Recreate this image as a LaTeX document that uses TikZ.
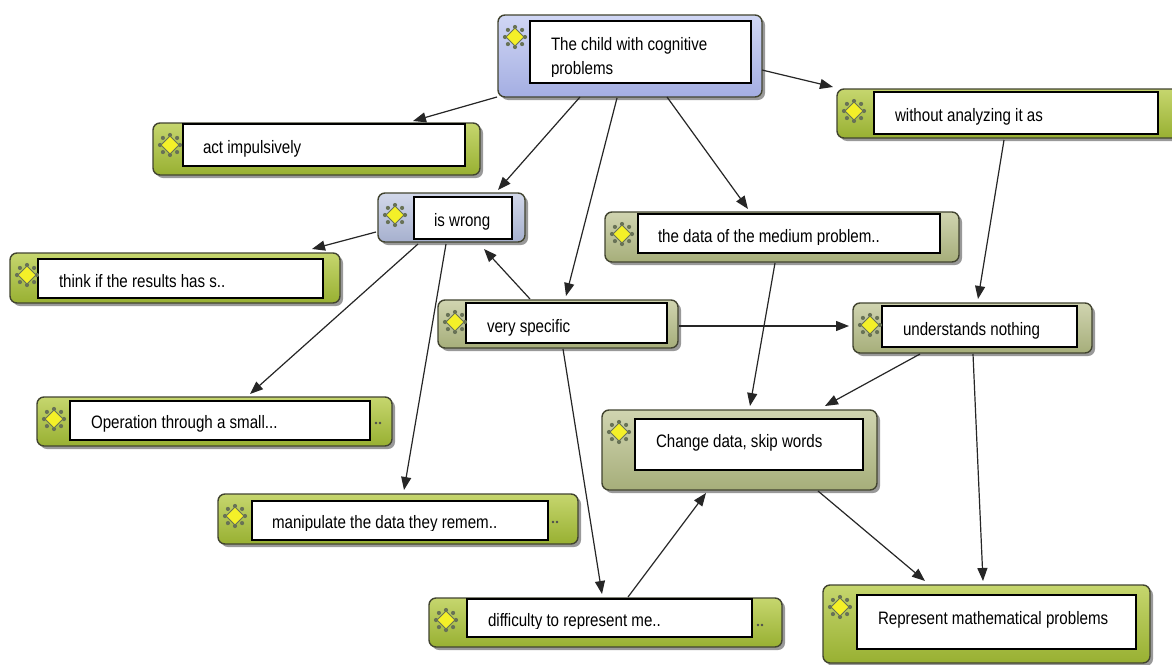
\documentclass[tikz,border=0pt]{standalone}
\usepackage{fontspec}
\setmainfont{Liberation Sans}
\newfontfamily\nodefont[FakeStretch=0.84]{Liberation Sans}
\usetikzlibrary{arrows.meta,shadows}
\definecolor{gtop}{RGB}{198,214,110}
\definecolor{gbot}{RGB}{152,176,50}
\definecolor{otop}{RGB}{208,212,176}
\definecolor{obot}{RGB}{166,174,122}
\definecolor{btop}{RGB}{208,214,244}
\definecolor{bbot}{RGB}{164,174,226}
\definecolor{wtop}{RGB}{210,216,234}
\definecolor{wbot}{RGB}{166,176,206}
\definecolor{edgec}{RGB}{66,68,48}
\definecolor{iconfill}{RGB}{244,240,40}
\definecolor{icondot}{RGB}{104,114,86}
\tikzset{
  outerbox/.style={draw=edgec, line width=1.4pt, rounded corners=7pt, inner sep=0pt, outer sep=0pt,
    drop shadow={shadow xshift=3pt, shadow yshift=-3pt, opacity=0.4, fill=black}},
  greenbox/.style={top color=gtop, bottom color=gbot},
  olivebox/.style={top color=otop, bottom color=obot},
  bluebox/.style={top color=btop, bottom color=bbot},
  greybluebox/.style={top color=wtop, bottom color=wbot},
  innerbox/.style={draw=black, fill=white, line width=1.3pt},
  txt/.style={inner sep=0pt, outer sep=0pt, font=\nodefont\fontsize{18}{22}\selectfont, text=black},
  conn/.style={draw=black!85, line width=1.2pt, -{Triangle[length=13pt,width=10pt]}},
}
% #1 name, #2 x1, #3 y1, #4 x2, #5 y2, #6 fill style, #7 inner rect, #8 text pos, #9 text
\newcommand{\cmapnode}[9]{%
  \node[outerbox, #6, minimum width={#4-#2}, minimum height={#5-#3}] (#1) at ({(#2+#4)/2},{(#3+#5)/2}) {};
  \draw[innerbox] #7;
  \foreach \ang in {0,45,...,315} {\fill[icondot] ({#2+17+10*cos(\ang)},{#3+22+10*sin(\ang)}) circle (2.1);}
  \draw[fill=iconfill, draw=icondot, line width=0.8pt] ({#2+17},{#3+13}) -- ({#2+26},{#3+22}) -- ({#2+17},{#3+31}) -- ({#2+8},{#3+22}) -- cycle;
  \node[txt, anchor=base west] at #8 {#9};
}
% clipped text: #1 name, #2 x, #3 baseline y, #4 text
\newcommand{\cliptext}[4]{%
  \begin{scope}
    \clip ({#2-6},{#3-30}) rectangle ({#2+420},{#3+2});
    \node[txt, anchor=base west] (#1) at (#2,#3) {#4};
  \end{scope}
}
\newcommand{\moredots}[2]{\fill[black!70] (#1,#2) circle (1.4); \fill[black!70] (#1+4,#2) circle (1.4);}
\begin{document}
\begin{tikzpicture}[x=1pt,y=-1pt]
\useasboundingbox (0,0) rectangle (1172,664);
\fill[white] (0,0) rectangle (1172,664);

\cmapnode{child}{498}{15}{762}{97}{bluebox}{(530,21) rectangle (751,83)}{(551,50)}{The child with cognitive}
\cliptext{childb}{551}{74}{problems}
\cmapnode{act}{153}{123}{480}{175}{greenbox}{(183,124) rectangle (465,166)}{(203,153)}{act impulsively}
\cmapnode{iswrong}{378}{193}{525}{242}{greybluebox}{(414,197) rectangle (512,239)}{(434,226)}{is wrong}
\cmapnode{without}{837}{89}{1180}{138}{greenbox}{(874,92) rectangle (1158,134)}{(895,121)}{without analyzing it as}
\cmapnode{data}{605}{212}{959}{262}{olivebox}{(638,214) rectangle (940,253)}{(658,242)}{}
\cliptext{datat}{658}{242}{the data of the medium problem..}
\cmapnode{think}{10}{253}{340}{303}{greenbox}{(38,259) rectangle (323,298)}{(59,287)}{think if the results has s..}
\cmapnode{specific}{438}{300}{678}{348}{olivebox}{(466,303) rectangle (667,343)}{(487,332)}{very specific}
\cmapnode{underst}{853}{303}{1092}{353}{olivebox}{(882,306) rectangle (1077,347)}{(903,335)}{understands nothing}
\cmapnode{operation}{37}{397}{392}{446}{greenbox}{(70,401) rectangle (370,440)}{(91,428)}{Operation through a small...}
\moredots{376}{423}
\cmapnode{change}{602}{410}{877}{490}{olivebox}{(635,419) rectangle (863,470)}{(656,447)}{Change data, skip words}
\cmapnode{manip}{218}{494}{578}{544}{greenbox}{(252,501) rectangle (548,540)}{(272,528)}{}
\cliptext{manipt}{272}{528}{manipulate the data they remem..}
\moredots{553}{522}
\cmapnode{diff}{429}{598}{782}{647}{greenbox}{(467,599) rectangle (752,637)}{(488,626)}{}
\cliptext{difft}{488}{626}{difficulty to represent me..}
\moredots{758}{625}
\cmapnode{repr}{823}{585}{1150}{663}{greenbox}{(857,595) rectangle (1136,649)}{(878,624)}{Represent mathematical problems}

% connectors
\draw[conn] ([shift={(-1,82)}]child.north west) -- ([shift={(260,-2)}]act.north west);
\draw[conn] ([shift={(82,82)}]child.north west) -- ([shift={(120,-3)}]iswrong.north west);
\draw[conn] ([shift={(119,83)}]child.north west) -- ([shift={(128,-4)}]specific.north west);
\draw[conn] ([shift={(169,82)}]child.north west) -- ([shift={(143,-3)}]data.north west);
\draw[conn] ([shift={(264,55)}]child.north west) -- ([shift={(-4,-2)}]without.north west);
\draw[conn] ([shift={(167,51)}]without.north west) -- ([shift={(125,-4)}]underst.north west);
\draw[conn] ([shift={(-2,39)}]iswrong.north west) -- ([shift={(302,-4)}]think.north west);
\draw[conn] ([shift={(40,51)}]iswrong.north west) -- ([shift={(213,-3)}]operation.north west);
\draw[conn] ([shift={(68,51)}]iswrong.north west) -- ([shift={(186,-4)}]manip.north west);
\draw[conn] ([shift={(92,-1)}]specific.north west) -- ([shift={(106,56)}]iswrong.north west);
\draw[conn] ([shift={(241,26)}]specific.north west) -- ([shift={(-4,23)}]underst.north west);
\draw[conn] ([shift={(125,49)}]specific.north west) -- ([shift={(173,-4)}]diff.north west);
\draw[conn] ([shift={(170,51)}]data.north west) -- ([shift={(148,-4)}]change.north west);
\draw[conn] ([shift={(67,51)}]underst.north west) -- ([shift={(223,-4)}]change.north west);
\draw[conn] ([shift={(120,51)}]underst.north west) -- ([shift={(160,-4)}]repr.north west);
\draw[conn] ([shift={(199,-1)}]diff.north west) -- ([shift={(104,83)}]change.north west);
\draw[conn] ([shift={(216,81)}]change.north west) -- ([shift={(102,-4)}]repr.north west);
\end{tikzpicture}
\end{document}
